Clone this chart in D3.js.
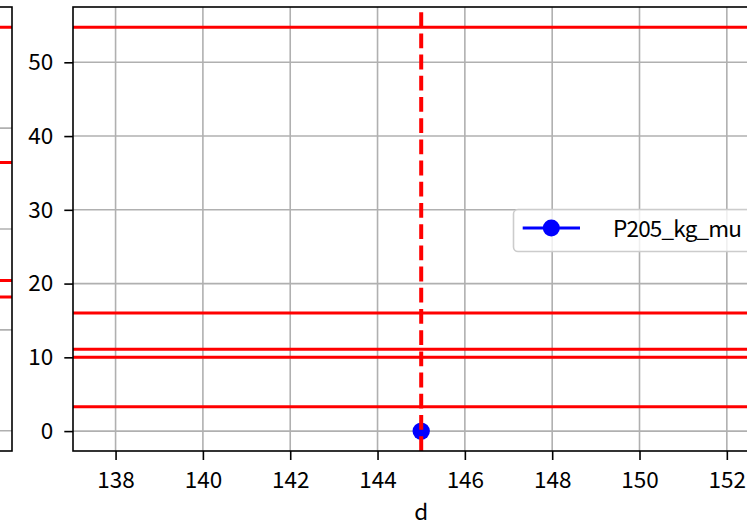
<!DOCTYPE html>
<html>
<head>
<meta charset="utf-8">
<script src="https://cdn.jsdelivr.net/npm/d3@7"></script>
<style>
  html, body { margin: 0; padding: 0; background: #fff; }
  svg { display: block; }
  text { font-family: "Noto Sans CJK JP", "Noto Sans", sans-serif; }
</style>
</head>
<body>
<svg id="chart" width="747" height="522"></svg>
<script>
// ---- data ----
const xTicks = [138, 140, 142, 144, 146, 148, 150, 152];
const yTicks = [0, 10, 20, 30, 40, 50];
const seriesName = "P205_kg_mu";
const pointX = [145];
const pointY = [0];
const hLines = [54.75, 16.0, 11.1, 10.0, 3.3];
const vLines = [145];
const leftYTicks = [0, 10, 20, 30, 40];
const leftHLines = [40, 26.6, 14.9, 13.25];
const xLabel = "d";

(function () {
// ---- layout ----
const svg = d3.select("#chart");
const plotTop = 7, plotBottom = 451;
const mainLeft = 73, mainRight = 769.4;
const leftPanelRight = 12, leftPanelLeft = -300;

const FONT = 22.5;
const gridColor = "#b0b0b0";
const red = "#ff0000";
const blue = "#0000ff";

// ---- left (partial) panel ----
const yL = d3.scaleLinear().domain([-2, 42]).range([plotBottom, plotTop]);
const gL = svg.append("g");
gL.selectAll("line.grid").data(leftYTicks).join("line")
  .attr("x1", leftPanelLeft).attr("x2", leftPanelRight)
  .attr("y1", d => yL(d)).attr("y2", d => yL(d))
  .attr("stroke", gridColor).attr("stroke-width", 1.6);
gL.selectAll("line.h").data(leftHLines).join("line")
  .attr("x1", leftPanelLeft).attr("x2", leftPanelRight)
  .attr("y1", d => yL(d)).attr("y2", d => yL(d))
  .attr("stroke", red).attr("stroke-width", 3);
gL.append("rect")
  .attr("x", leftPanelLeft).attr("y", plotTop)
  .attr("width", leftPanelRight - leftPanelLeft).attr("height", plotBottom - plotTop)
  .attr("fill", "none").attr("stroke", "#000").attr("stroke-width", 1.6);

// ---- main panel ----
const x = d3.scaleLinear().domain([137.025, 152.975]).range([mainLeft, mainRight]);
const y = d3.scaleLinear().domain([-2.7, 57.5]).range([plotBottom, plotTop]);

const g = svg.append("g");
g.selectAll("line.gx").data(xTicks).join("line")
  .attr("x1", d => x(d)).attr("x2", d => x(d))
  .attr("y1", plotTop).attr("y2", plotBottom)
  .attr("stroke", gridColor).attr("stroke-width", 1.6);
g.selectAll("line.gy").data(yTicks).join("line")
  .attr("x1", mainLeft).attr("x2", mainRight)
  .attr("y1", d => y(d)).attr("y2", d => y(d))
  .attr("stroke", gridColor).attr("stroke-width", 1.6);

g.selectAll("circle.pt").data(pointX.map((d, i) => [d, pointY[i]])).join("circle")
  .attr("cx", d => x(d[0])).attr("cy", d => y(d[1]))
  .attr("r", 8.7).attr("fill", blue);

g.selectAll("line.h").data(hLines).join("line")
  .attr("x1", mainLeft).attr("x2", mainRight)
  .attr("y1", d => y(d)).attr("y2", d => y(d))
  .attr("stroke", red).attr("stroke-width", 3);

g.selectAll("line.v").data(vLines).join("line")
  .attr("x1", d => x(d)).attr("x2", d => x(d))
  .attr("y1", plotBottom).attr("y2", plotTop)
  .attr("stroke", red).attr("stroke-width", 4)
  .attr("stroke-dasharray", "14.8,6.4");

g.append("rect")
  .attr("x", mainLeft).attr("y", plotTop)
  .attr("width", mainRight - mainLeft).attr("height", plotBottom - plotTop)
  .attr("fill", "none").attr("stroke", "#000").attr("stroke-width", 1.6);

const xAxis = d3.axisBottom(x).tickValues(xTicks).tickSize(9).tickSizeOuter(0).tickPadding(12.5).tickFormat(d3.format("d"));
const yAxis = d3.axisLeft(y).tickValues(yTicks).tickSize(8.7).tickSizeOuter(0).tickPadding(11).tickFormat(d3.format("d"));
const gx = svg.append("g").attr("transform", `translate(0,${plotBottom})`).call(xAxis);
const gy = svg.append("g").attr("transform", `translate(${mainLeft},0)`).call(yAxis);
[gx, gy].forEach(ax => {
  ax.select(".domain").remove();
  ax.selectAll(".tick line").attr("stroke", "#000").attr("stroke-width", 1.6);
  ax.selectAll(".tick text").attr("fill", "#000").style("font-size", FONT + "px")
    .style("font-family", '"Noto Sans CJK JP", "Noto Sans", sans-serif');
});

svg.append("text")
  .attr("x", x(145)).attr("y", 520)
  .attr("text-anchor", "middle")
  .style("font-size", FONT + "px")
  .attr("fill", "#000")
  .text(xLabel);

const lg = svg.append("g");
lg.append("rect")
  .attr("x", 513.5).attr("y", 209.5)
  .attr("width", 246).attr("height", 42)
  .attr("rx", 4.5).attr("ry", 4.5)
  .attr("fill", "#fff").attr("fill-opacity", 0.8)
  .attr("stroke", "#cccccc").attr("stroke-width", 1.6);
lg.append("line")
  .attr("x1", 522.7).attr("x2", 580).attr("y1", 228).attr("y2", 228)
  .attr("stroke", blue).attr("stroke-width", 3);
lg.append("circle")
  .attr("cx", 551.3).attr("cy", 228).attr("r", 8.5).attr("fill", blue);
lg.append("text")
  .attr("x", 613).attr("y", 236.5)
  .style("font-size", FONT + "px")
  .style("letter-spacing", "-0.8px")
  .attr("fill", "#000")
  .text(seriesName);
})();
</script>
</body>
</html>
